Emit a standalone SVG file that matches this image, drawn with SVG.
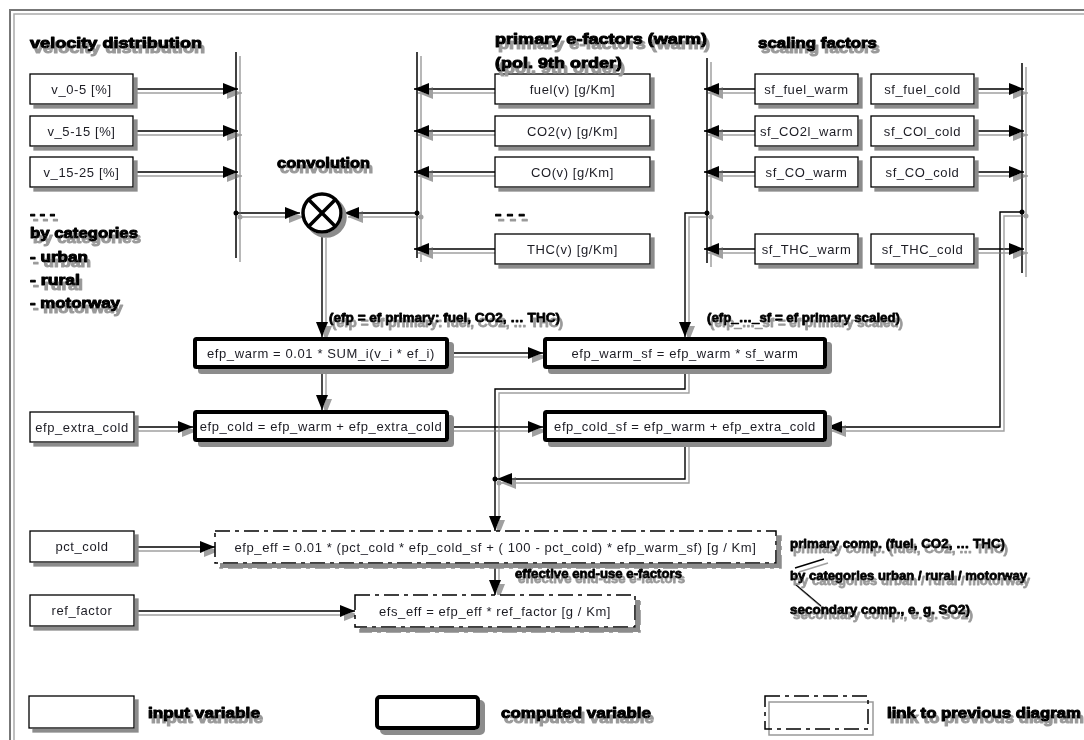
<svg xmlns="http://www.w3.org/2000/svg" width="1084" height="740" viewBox="0 0 1084 740">
  <defs>
    <style>
      .frame-o { fill: none; stroke: #777; stroke-width: 2; }
      .frame-i { fill: none; stroke: #aaa; stroke-width: 1.5; }
      .box { fill: #fff; stroke: #000; stroke-width: 1.3; }
      .cbox { fill: #fff; stroke: #000; stroke-width: 4; }
      .dbox { fill: #fff; stroke: #000; stroke-width: 1.5; stroke-dasharray: 15 5 4 5; }
      .lbl { font-family: "Liberation Sans", Arial, sans-serif; font-size: 13px; fill: #1c1c24; text-anchor: middle; letter-spacing: 0.6px; }
      .ttl { font-family: "Liberation Sans", Arial, sans-serif; font-weight: bold; font-size: 15.5px; fill: #000; stroke: #000; stroke-width: 1.1px; stroke-linejoin: round; }
      .note { font-family: "Liberation Sans", Arial, sans-serif; font-weight: bold; font-size: 13px; fill: #000; stroke: #000; stroke-width: 0.8px; stroke-linejoin: round; }
      .wire { fill: none; stroke: #000; stroke-width: 1.4; }
      .arr { fill: none; stroke: #000; stroke-width: 1.4; marker-end: url(#ah); }
      .bus { fill: none; stroke: #000; stroke-width: 1.5; }
      .dot { fill: #000; }
      .conv { fill: #fff; stroke: #000; stroke-width: 3.5; }
      .convx { stroke: #000; stroke-width: 3.5; }
    </style>
    <marker id="ah" markerUnits="userSpaceOnUse" markerWidth="15" markerHeight="12" refX="15" refY="6" orient="auto">
      <path d="M0,0 L15,6 L0,12 Z" fill="#000"/>
    </marker>
    <!-- flat grey drop shadows, no blur -->
    <filter id="sh4" filterUnits="userSpaceOnUse" x="0" y="0" width="1084" height="740">
      <feOffset in="SourceAlpha" dx="4" dy="4" result="o"/>
      <feFlood flood-color="#8c8c8c"/>
      <feComposite in2="o" operator="in" result="s"/>
      <feMerge><feMergeNode in="s"/><feMergeNode in="SourceGraphic"/></feMerge>
    </filter>
    <filter id="sh5" filterUnits="userSpaceOnUse" x="0" y="0" width="1084" height="740">
      <feOffset in="SourceAlpha" dx="5" dy="5" result="o"/>
      <feFlood flood-color="#8c8c8c"/>
      <feComposite in2="o" operator="in" result="s"/>
      <feMerge><feMergeNode in="s"/><feMergeNode in="SourceGraphic"/></feMerge>
    </filter>
    <filter id="shw" filterUnits="userSpaceOnUse" x="0" y="0" width="1084" height="740">
      <feOffset in="SourceAlpha" dx="4" dy="4" result="o"/>
      <feFlood flood-color="#a0a0a0"/>
      <feComposite in2="o" operator="in" result="s"/>
      <feMerge><feMergeNode in="s"/><feMergeNode in="SourceGraphic"/></feMerge>
    </filter>
    <filter id="sht" filterUnits="userSpaceOnUse" x="0" y="0" width="1084" height="740">
      <feOffset in="SourceAlpha" dx="3" dy="5" result="o"/>
      <feFlood flood-color="#999"/>
      <feComposite in2="o" operator="in" result="s"/>
      <feMerge><feMergeNode in="s"/><feMergeNode in="SourceGraphic"/></feMerge>
    </filter>
  </defs>

  <rect width="1084" height="740" fill="#fff"/>

  <!-- page frame -->
  <path class="frame-o" d="M10,760 V10 H1100"/>
  <path class="frame-i" d="M14,760 V14 H1100"/>

  <!-- connectors -->
  <g id="connectors" filter="url(#shw)">
    <!-- collecting buses -->
    <path class="bus" d="M236,52 V258"/>
    <path class="bus" d="M417,52 V258"/>
    <path class="bus" d="M707,58 V263"/>
    <path class="bus" d="M1022,63 V273"/>
    <!-- velocity shares into bus -->
    <path class="arr" d="M133,89 H238"/>
    <path class="arr" d="M133,131 H238"/>
    <path class="arr" d="M133,172 H238"/>
    <path class="arr" d="M236,213 H300"/>
    <!-- primary factors into bus -->
    <path class="arr" d="M495,89 H414"/>
    <path class="arr" d="M495,131 H414"/>
    <path class="arr" d="M495,172 H414"/>
    <path class="arr" d="M495,249 H414"/>
    <path class="arr" d="M417,213 H344"/>
    <!-- convolution result -->
    <path class="arr" d="M322,234 V337"/>
    <path class="arr" d="M449,353 H543"/>
    <path class="arr" d="M322,369 V410"/>
    <path class="arr" d="M134,427 H193"/>
    <path class="arr" d="M449,427 H543"/>
    <!-- scaling factors -->
    <path class="arr" d="M755,89 H704"/>
    <path class="arr" d="M755,131 H704"/>
    <path class="arr" d="M755,172 H704"/>
    <path class="arr" d="M755,249 H704"/>
    <path class="arr" d="M974,89 H1024"/>
    <path class="arr" d="M974,131 H1024"/>
    <path class="arr" d="M974,172 H1024"/>
    <path class="arr" d="M974,249 H1024"/>
    <path class="arr" d="M707,213 H685 V337"/>
    <path class="arr" d="M1022,212 H1000 V427 H827"/>
    <!-- scaled factors to effective factor -->
    <path class="arr" d="M685,369 V389 H495 V531"/>
    <path class="arr" d="M685,442 V479 H497"/>
    <path class="arr" d="M134,547 H215"/>
    <path class="arr" d="M495,563 V595"/>
    <path class="arr" d="M134,611 H355"/>
    <!-- bracket strokes of the side note -->
    <path class="wire" d="M795,568 L824,559"/>
    <path class="wire" d="M795,584 L821,606"/>
    <!-- junctions -->
    <circle class="dot" cx="236" cy="213" r="2.5"/>
    <circle class="dot" cx="417" cy="213" r="2.5"/>
    <circle class="dot" cx="707" cy="213" r="2.5"/>
    <circle class="dot" cx="1022" cy="212" r="2.5"/>
    <circle class="dot" cx="495" cy="479" r="2.5"/>
  </g>

  <!-- input variables -->
  <g id="v_0-5" filter="url(#sh4)"><rect class="box" x="30" y="74" width="103" height="30"/><text class="lbl" x="81.5" y="93.5">v_0-5 [%]</text></g>
  <g id="v_5-15" filter="url(#sh4)"><rect class="box" x="30" y="116" width="103" height="30"/><text class="lbl" x="81.5" y="135.5">v_5-15 [%]</text></g>
  <g id="v_15-25" filter="url(#sh4)"><rect class="box" x="30" y="157" width="103" height="30"/><text class="lbl" x="81.5" y="176.5">v_15-25 [%]</text></g>

  <g id="fuel_v" filter="url(#sh4)"><rect class="box" x="495" y="74" width="155" height="30"/><text class="lbl" x="572.5" y="93.5">fuel(v) [g/Km]</text></g>
  <g id="co2_v" filter="url(#sh4)"><rect class="box" x="495" y="116" width="155" height="30"/><text class="lbl" x="572.5" y="135.5">CO2(v) [g/Km]</text></g>
  <g id="co_v" filter="url(#sh4)"><rect class="box" x="495" y="157" width="155" height="30"/><text class="lbl" x="572.5" y="176.5">CO(v) [g/Km]</text></g>
  <g id="thc_v" filter="url(#sh4)"><rect class="box" x="495" y="234" width="155" height="30"/><text class="lbl" x="572.5" y="253.5">THC(v) [g/Km]</text></g>

  <g id="sf_fuel_warm" filter="url(#sh4)"><rect class="box" x="755" y="74" width="103" height="30"/><text class="lbl" x="806.5" y="93.5">sf_fuel_warm</text></g>
  <g id="sf_co2l_warm" filter="url(#sh4)"><rect class="box" x="755" y="116" width="103" height="30"/><text class="lbl" x="806.5" y="135.5">sf_CO2l_warm</text></g>
  <g id="sf_co_warm" filter="url(#sh4)"><rect class="box" x="755" y="157" width="103" height="30"/><text class="lbl" x="806.5" y="176.5">sf_CO_warm</text></g>
  <g id="sf_thc_warm" filter="url(#sh4)"><rect class="box" x="755" y="234" width="103" height="30"/><text class="lbl" x="806.5" y="253.5">sf_THC_warm</text></g>

  <g id="sf_fuel_cold" filter="url(#sh4)"><rect class="box" x="871" y="74" width="103" height="30"/><text class="lbl" x="922.5" y="93.5">sf_fuel_cold</text></g>
  <g id="sf_col_cold" filter="url(#sh4)"><rect class="box" x="871" y="116" width="103" height="30"/><text class="lbl" x="922.5" y="135.5">sf_COl_cold</text></g>
  <g id="sf_co_cold" filter="url(#sh4)"><rect class="box" x="871" y="157" width="103" height="30"/><text class="lbl" x="922.5" y="176.5">sf_CO_cold</text></g>
  <g id="sf_thc_cold" filter="url(#sh4)"><rect class="box" x="871" y="234" width="103" height="30"/><text class="lbl" x="922.5" y="253.5">sf_THC_cold</text></g>

  <g id="efp_extra_cold" filter="url(#sh4)"><rect class="box" x="30" y="412" width="104" height="30"/><text class="lbl" x="82" y="431.5">efp_extra_cold</text></g>
  <g id="pct_cold" filter="url(#sh4)"><rect class="box" x="30" y="531" width="104" height="31"/><text class="lbl" x="82" y="551">pct_cold</text></g>
  <g id="ref_factor" filter="url(#sh4)"><rect class="box" x="30" y="595" width="104" height="31"/><text class="lbl" x="82" y="615">ref_factor</text></g>

  <!-- convolution operator -->
  <g id="convolution" filter="url(#sh4)">
    <circle class="conv" cx="322" cy="213" r="19"/>
    <path class="convx" d="M308.6,199.6 L335.4,226.4 M335.4,199.6 L308.6,226.4"/>
  </g>

  <!-- computed variables -->
  <g id="efp_warm" filter="url(#sh5)"><rect class="cbox" x="195" y="339" width="252" height="28" rx="1.5"/><text class="lbl" x="321" y="357.5">efp_warm = 0.01 * SUM_i(v_i * ef_i)</text></g>
  <g id="efp_cold" filter="url(#sh5)"><rect class="cbox" x="195" y="412" width="252" height="28" rx="1.5"/><text class="lbl" x="321" y="430.5">efp_cold = efp_warm + efp_extra_cold</text></g>
  <g id="efp_warm_sf" filter="url(#sh5)"><rect class="cbox" x="545" y="339" width="280" height="28" rx="1.5"/><text class="lbl" x="685" y="357.5">efp_warm_sf = efp_warm * sf_warm</text></g>
  <g id="efp_cold_sf" filter="url(#sh5)"><rect class="cbox" x="545" y="412" width="280" height="28" rx="1.5"/><text class="lbl" x="685" y="430.5">efp_cold_sf = efp_warm + efp_extra_cold</text></g>

  <!-- links to the previous diagram -->
  <g id="efp_eff" filter="url(#sh5)"><rect class="dbox" x="215" y="531" width="561" height="32"/><text class="lbl" x="495.5" y="551.5">efp_eff = 0.01 * (pct_cold * efp_cold_sf + ( 100 - pct_cold) * efp_warm_sf) [g / Km]</text></g>
  <g id="efs_eff" filter="url(#sh5)"><rect class="dbox" x="355" y="595" width="280" height="32"/><text class="lbl" x="495" y="615.5">efs_eff = efp_eff * ref_factor [g / Km]</text></g>

  <!-- headings and notes -->
  <g id="notes" filter="url(#sht)">
    <text class="ttl" x="30" y="48" textLength="172" lengthAdjust="spacingAndGlyphs">velocity distribution</text>
    <text class="ttl" x="277" y="168" textLength="93" lengthAdjust="spacingAndGlyphs">convolution</text>
    <text class="ttl" x="495" y="44" textLength="212" lengthAdjust="spacingAndGlyphs">primary e-factors (warm)</text>
    <text class="ttl" x="495" y="68" textLength="127" lengthAdjust="spacingAndGlyphs">(pol. 9th order)</text>
    <text class="ttl" x="758" y="48" textLength="119" lengthAdjust="spacingAndGlyphs">scaling factors</text>
    <text class="ttl" x="30" y="219" textLength="25" lengthAdjust="spacingAndGlyphs">- - -</text>
    <text class="ttl" x="30" y="238" textLength="108" lengthAdjust="spacingAndGlyphs">by categories</text>
    <text class="ttl" x="30" y="262" textLength="58" lengthAdjust="spacingAndGlyphs">- urban</text>
    <text class="ttl" x="30" y="285" textLength="50" lengthAdjust="spacingAndGlyphs">- rural</text>
    <text class="ttl" x="30" y="308" textLength="90" lengthAdjust="spacingAndGlyphs">- motorway</text>
    <text class="ttl" x="495" y="219" textLength="30" lengthAdjust="spacingAndGlyphs">- - -</text>
    <text class="note" x="329" y="322" textLength="231" lengthAdjust="spacingAndGlyphs">(efp = ef primary: fuel, CO2, … THC)</text>
    <text class="note" x="707" y="322" textLength="193" lengthAdjust="spacingAndGlyphs">(efp_…_sf = ef primary scaled)</text>
    <text class="note" x="515" y="578" textLength="167" lengthAdjust="spacingAndGlyphs">effective end-use e-factors</text>
    <text class="note" x="790" y="548" textLength="215" lengthAdjust="spacingAndGlyphs">primary comp. (fuel, CO2, … THC)</text>
    <text class="note" x="790" y="580" textLength="237" lengthAdjust="spacingAndGlyphs">by categories urban / rural / motorway</text>
    <text class="note" x="790" y="614" textLength="180" lengthAdjust="spacingAndGlyphs">secondary comp., e. g. SO2)</text>
  </g>

  <!-- legend -->
  <g id="legend">
    <g filter="url(#sh4)"><rect class="box" x="29" y="696" width="105" height="32"/></g>
    <g filter="url(#sh5)"><rect class="cbox" x="377" y="697" width="101" height="31" rx="3"/></g>
    <rect x="769" y="702" width="104" height="33" fill="none" stroke="#999" stroke-width="1.5"/>
    <rect x="765" y="696" width="103" height="33" fill="none" stroke="#000" stroke-width="1.5" stroke-dasharray="15 5 4 5"/>
    <g filter="url(#sht)">
      <text class="ttl" x="148" y="718" textLength="112" lengthAdjust="spacingAndGlyphs">input variable</text>
      <text class="ttl" x="501" y="718" textLength="150" lengthAdjust="spacingAndGlyphs">computed variable</text>
      <text class="ttl" x="887" y="718" textLength="194" lengthAdjust="spacingAndGlyphs">link to previous diagram</text>
    </g>
  </g>
</svg>
